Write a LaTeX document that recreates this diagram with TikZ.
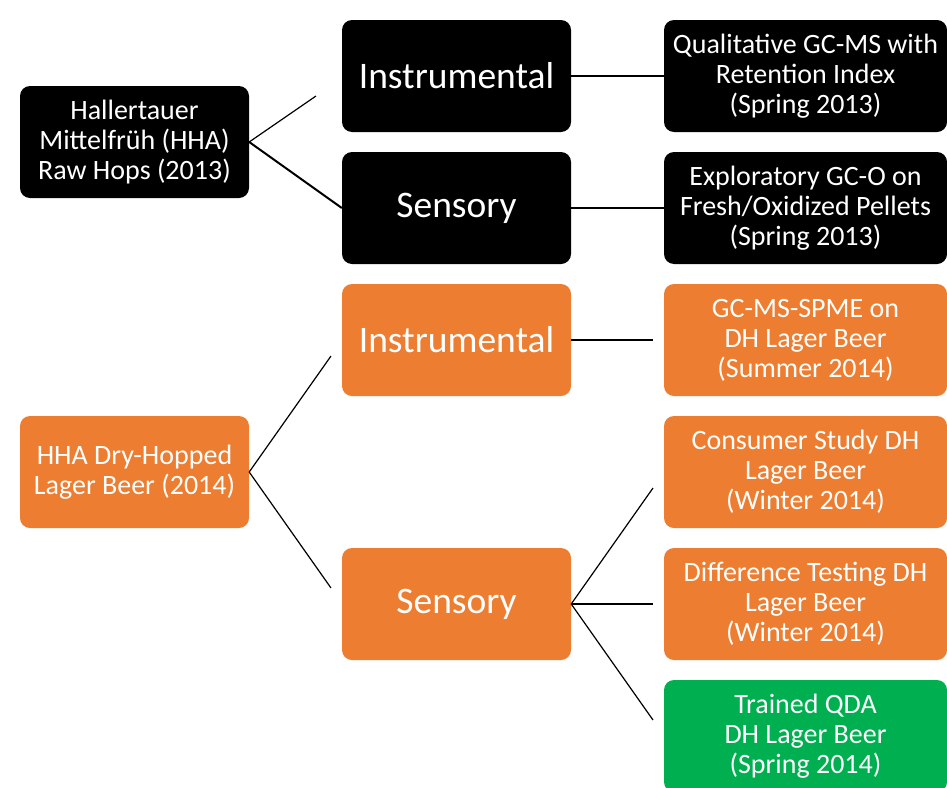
\documentclass[tikz,border=0pt]{standalone}
\usepackage{fontspec}
\setmainfont{Carlito}
\definecolor{hoporange}{HTML}{ED7D31}
\definecolor{hopgreen}{HTML}{00B050}

\def\boxw{229pt}
\def\boxh{112pt}

\begin{document}
\begin{tikzpicture}[x=1pt, y=-1pt,
    box/.style={rounded corners=10pt, minimum width=\boxw, minimum height=\boxh, text=white, align=center, inner sep=0pt},
    small/.style={box, font=\fontsize{28}{30}\selectfont},
    big/.style={box, font=\fontsize{37.5}{44}\selectfont},
    wide/.style={small, minimum width=283pt},
    thin/.style={line width=1.2pt},
    thick/.style={line width=2pt}]
      \useasboundingbox (0,0) rectangle (947,787);
      \node[small, fill=black] (hops) at (134.5,142) {Hallertauer\\Mittelfrüh (HHA)\\Raw Hops (2013)};
      \node[big, fill=black] (instA) at (456.5,76) {Instrumental};
      \node[big, fill=black] (sensA) at (456.5,208) {Sensory};
      \node[wide, fill=black] (gcms) at (805.5,76) {Qualitative GC-MS with\\Retention Index\\(Spring 2013)};
      \node[wide, fill=black] (gco) at (805.5,208) {Exploratory GC-O on\\Fresh/Oxidized Pellets\\(Spring 2013)};
      \node[small, fill=hoporange] (beer) at (134.5,472) {HHA Dry-Hopped\\Lager Beer (2014)};
      \node[big, fill=hoporange] (instB) at (456.5,340) {Instrumental};
      \node[big, fill=hoporange] (sensB) at (456.5,604) {Sensory};
      \node[wide, fill=hoporange] (spme) at (805.5,340) {GC-MS-SPME on\\DH Lager Beer\\(Summer 2014)};
      \node[wide, fill=hoporange] (consumer) at (805.5,472) {Consumer Study DH\\Lager Beer\\(Winter 2014)};
      \node[wide, fill=hoporange] (diff) at (805.5,604) {Difference Testing DH\\Lager Beer\\(Winter 2014)};
      \node[wide, fill=hopgreen] (qda) at (805.5,736) {Trained QDA\\DH Lager Beer\\(Spring 2014)};
      \coordinate (hopsup) at (316,96);
      \coordinate (beerup) at (331,356);
      \coordinate (beerdown) at (331,588);
      \coordinate (spmein) at (653,340);
      \coordinate (consumerin) at (653,488);
      \coordinate (diffin) at (653,604);
      \coordinate (qdain) at (653,720);
      \draw[thin] (hops.east) -- (hopsup);
      \draw[thick] (hops.east) -- (sensA.west);
      \draw[thick] (instA.east) -- (gcms.west);
      \draw[thick] (sensA.east) -- (gco.west);
      \draw[thin] (beer.east) -- (beerup);
      \draw[thin] (beer.east) -- (beerdown);
      \draw[thin] (instB.east) -- (spmein);
      \draw[thin] (sensB.east) -- (consumerin);
      \draw[thick] (sensB.east) -- (diffin);
      \draw[thin] (sensB.east) -- (qdain);
\end{tikzpicture}
\end{document}
